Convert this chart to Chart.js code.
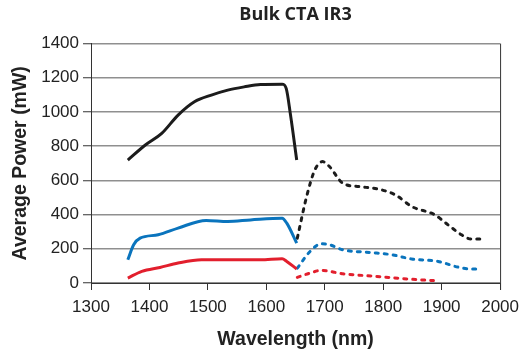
<!DOCTYPE html>
<html><head><meta charset="utf-8">
<script src="https://cdn.jsdelivr.net/npm/chart.js@4"></script>
<style>html,body{margin:0;padding:0;background:#fff}#w{width:526px;height:354px}</style>
</head><body><div id="w"><canvas id="c" width="526" height="354"></canvas></div>
<script>
const title = "Bulk CTA IR3";
const xTitle = "Wavelength (nm)";
const yTitle = "Average Power (mW)";
const xTicks = [1300, 1400, 1500, 1600, 1700, 1800, 1900, 2000];
const yTicks = [0, 200, 400, 600, 800, 1000, 1200, 1400];

const blackSolidX = [1363, 1393, 1421, 1449, 1477, 1506, 1534, 1562, 1590, 1627, 1634, 1641, 1652];
const blackSolidY = [719, 807, 875, 982, 1060, 1099, 1128, 1147, 1161, 1163, 1138, 992, 719];
const blueSolidX = [1363, 1373, 1384, 1415, 1449, 1497, 1534, 1573, 1627, 1635, 1652];
const blueSolidY = [136, 224, 262, 282, 321, 366, 360, 369, 379, 350, 233];
const redSolidX = [1363, 1387, 1418, 1449, 1489, 1534, 1590, 1627, 1635, 1652];
const redSolidY = [29, 68, 91, 117, 136, 136, 136, 142, 126, 82];

const blackDotX = [1653, 1669, 1683, 1696, 1708, 1731, 1759, 1798, 1821, 1849, 1888, 1911, 1934, 1950, 1967];
const blackDotY = [262, 506, 661, 710, 681, 583, 564, 544, 515, 447, 399, 340, 282, 257, 257];
const blueDotX = [1653, 1675, 1694, 1708, 1731, 1776, 1815, 1849, 1894, 1928, 1950, 1967];
const blueDotY = [87, 185, 229, 224, 194, 179, 165, 140, 126, 93, 82, 82];
const redDotX = [1653, 1675, 1694, 1731, 1787, 1843, 1886];
const redDotY = [33, 58, 74, 54, 39, 23, 14];

const pts = (xs, ys) => xs.map((x, i) => ({x: x, y: ys[i]}));
const BLACK = '#1c1c1c', BLUE = '#0a74bd', RED = '#e21f2d';
function ds(xs, ys, color, dotted) {
  return {
    data: pts(xs, ys), borderColor: color, borderWidth: 3, pointRadius: 0,
    fill: false, cubicInterpolationMode: 'monotone',
    borderDash: dotted ? [3, 6] : [], borderCapStyle: dotted ? 'round' : 'butt',
    borderJoinStyle: 'round'
  };
}

const rightBorder = {
  id: 'rightBorder',
  afterLayout(chart) {
    const t = chart.titleBlock, a = chart.chartArea;
    if (t) { t.left = a.left; t.right = a.right; t.width = a.right - a.left; }
  },
  afterDraw(chart) {
    const a = chart.chartArea, ctx = chart.ctx;
    ctx.save(); ctx.strokeStyle = '#333'; ctx.lineWidth = 1;
    ctx.beginPath(); ctx.moveTo(a.right + 0.5, a.top); ctx.lineTo(a.right + 0.5, a.bottom + 7); ctx.stroke();
    ctx.restore();
  }
};

const FONT = "'Liberation Sans', Arial, sans-serif";
new Chart(document.getElementById('c'), {
  type: 'line',
  data: { datasets: [
    ds(blackSolidX, blackSolidY, BLACK, false),
    ds(blueSolidX, blueSolidY, BLUE, false),
    ds(redSolidX, redSolidY, RED, false),
    ds(blackDotX, blackDotY, BLACK, true),
    ds(blueDotX, blueDotY, BLUE, true),
    ds(redDotX, redDotY, RED, true)
  ]},
  plugins: [rightBorder],
  options: {
    responsive: false, animation: false,
    layout: { padding: { left: 0, right: 20, top: 0, bottom: 0 } },
    plugins: {
      legend: { display: false }, tooltip: { enabled: false },
      title: { display: true, text: title, color: '#222',
        font: { family: "'Open Sans', sans-serif", size: 18, weight: 'bold' },
        padding: { top: 4, bottom: 18 } }
    },
    scales: {
      x: {
        type: 'linear', min: 1300, max: 2000,
        afterBuildTicks: s => { s.ticks = xTicks.map(v => ({value: v})); },
        afterFit: s => { s.height = 71; },
        ticks: { color: '#222', font: { family: FONT, size: 17 }, padding: 7, maxRotation: 0,
          callback: v => String(v) },
        grid: { drawOnChartArea: false, drawTicks: true, tickLength: 7, color: '#333' },
        border: { color: '#333', width: 1 },
        title: { display: true, text: xTitle, color: '#222', font: { family: FONT, size: 19.5, weight: 'bold' }, padding: { top: 0, bottom: 3 } }
      },
      y: {
        min: 0, max: 1400,
        afterBuildTicks: s => { s.ticks = yTicks.map(v => ({value: v})); },
        afterFit: s => { s.width = 91; },
        ticks: { color: '#222', font: { family: FONT, size: 17 }, padding: 4,
          callback: v => String(v) },
        grid: { color: '#8f8f8f', lineWidth: 1.5, tickLength: 8, tickColor: '#333', tickWidth: 1 },
        border: { color: '#333', width: 1 },
        title: { display: true, text: yTitle, color: '#222', font: { family: FONT, size: 19.5, weight: 'bold' }, padding: { top: 9, bottom: 0 } }
      }
    }
  }
});
</script></body></html>
